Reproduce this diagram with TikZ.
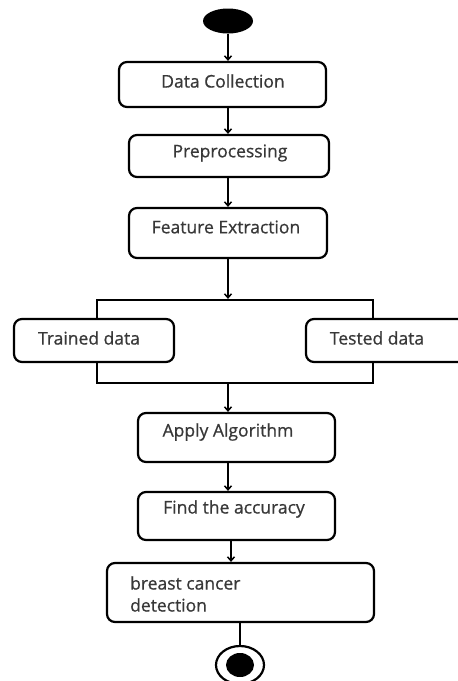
\documentclass[tikz,border=0pt]{standalone}
\usepackage{fontspec}
\setmainfont{Open Sans}
\newfontfamily\lblfont[FakeBold=0.7]{Open Sans}
\usetikzlibrary{arrows.meta,shapes.geometric}
\begin{document}
\begin{tikzpicture}[x=1pt,y=-1pt,
 box/.style={draw, line width=2.2pt, rounded corners=8pt, fill=white, inner sep=0pt},
 lbl/.style={font=\lblfont\fontsize{17.5}{22}\selectfont, inner sep=0pt, text=black!78},
 flow/.style={line width=1.5pt, -{Straight Barb[length=4pt,width=7pt]}},
 plain/.style={line width=1.5pt},
]
\useasboundingbox (0,0) rectangle (458,681);
\clip (0,0) rectangle (458,681);
% start
\node[fill=black, ellipse, minimum width=50pt, minimum height=25pt, inner sep=0pt] (start) at (228,21) {};
% boxes
\node[box, minimum width=207pt, minimum height=45pt] (dc) at (222.5,84.5) {};
\node[box, minimum width=200pt, minimum height=42pt] (pre) at (229,156) {};
\node[box, minimum width=198pt, minimum height=50pt] (fe) at (228,233) {};
\node[draw, line width=2.2pt, minimum width=276pt, minimum height=83pt, inner sep=0pt] (fork) at (235,341.5) {};
\node[box, minimum width=160pt, minimum height=43pt] (tr) at (94,340.5) {};
\node[box, minimum width=164pt, minimum height=43pt] (te) at (388,340.5) {};
\node[box, minimum width=197pt, minimum height=49pt] (ap) at (236.5,437.5) {};
\node[box, minimum width=197pt, minimum height=48pt] (acc) at (236.5,516) {};
\node[box, minimum width=267pt, minimum height=59pt] (bcd) at (240.5,592.5) {};
% final
\node[draw, line width=2.2pt, ellipse, minimum width=48pt, minimum height=38pt, inner sep=0pt] (fin) at (240,665) {};
\node[fill=black, ellipse, minimum width=28pt, minimum height=24pt, inner sep=0pt] (finin) at (240,665) {};
% texts
\node[lbl] (tdc) at (223,81) {Data Collection};
\node[lbl] (tpre) at (230,153) {Preprocessing};
\node[lbl] (tfe) at (226,227) {Feature Extraction};
\node[lbl] (ttr) at (89,338) {Trained data};
\node[lbl] (tte) at (377,338) {Tested data};
\node[lbl] (tap) at (228,432) {Apply Algorithm};
\node[lbl] (tacc) at (234,509) {Find the accuracy};
\node[lbl, anchor=west, align=left] (tbcd) at (130,594) {breast cancer\\detection};
% connectors
\coordinate (c1) at (231,0);
\draw[flow] (start.south) -- (start.south |- dc.north);
\draw[flow] (dc.south -| start) -- (pre.north -| start);
\draw[flow] (pre.south -| start) -- (fe.north -| start);
\draw[flow] (fe.south -| start) -- (fork.north -| start);
\draw[flow] (fork.south -| start) -- (ap.north -| start);
\draw[flow] (ap.south -| start) -- (acc.north -| start);
\draw[flow] (acc.south -| c1) -- (bcd.north -| c1);
\draw[plain] (bcd.south -| fin) -- (fin.north);
\end{tikzpicture}
\end{document}
